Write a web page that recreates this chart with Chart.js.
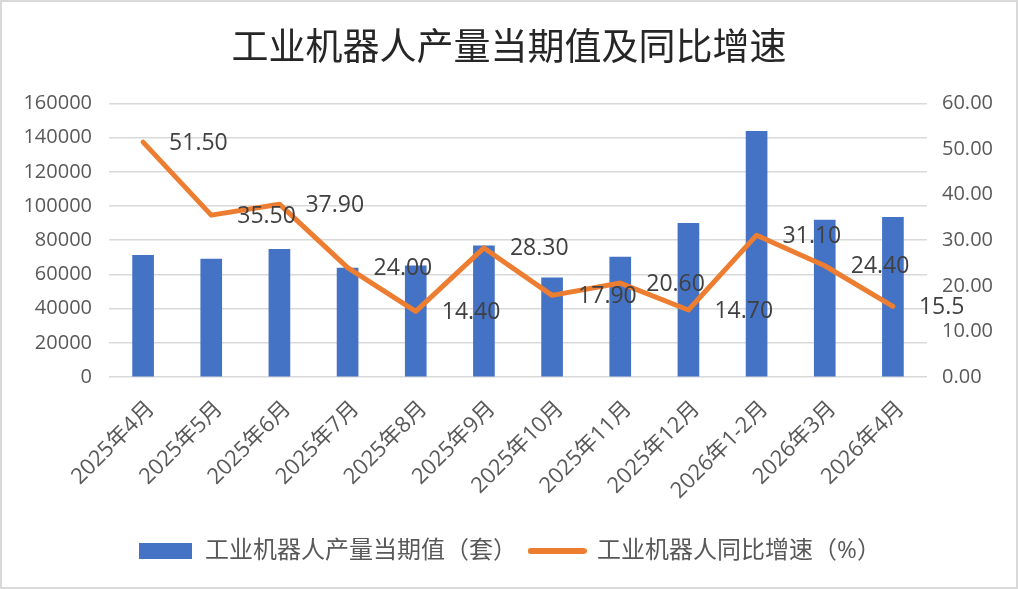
<!DOCTYPE html>
<html>
<head>
<meta charset="utf-8">
<script src="https://cdn.jsdelivr.net/npm/chart.js@4/dist/chart.umd.min.js"></script>
<style>
    html, body { margin: 0; padding: 0; background: #fff; }
    #frame {
        position: absolute; left: 0; top: 0;
        width: 1018px; height: 589px;
        box-sizing: border-box;
        border: 2px solid #d9d9d9;
        background: #fff;
    }
    #robotChart { display: block; }
</style>
</head>
<body>
<div id="frame"><canvas id="robotChart" width="1014" height="585"></canvas></div>
<script>
const months = ['2025年4月', '2025年5月', '2025年6月', '2025年7月', '2025年8月', '2025年9月',
    '2025年10月', '2025年11月', '2025年12月', '2026年1-2月', '2026年3月', '2026年4月'];
const output = [71200, 68900, 74700, 63700, 65000, 76700, 58000, 70200, 89800, 143700, 91700, 93400];
const growth = [51.5, 35.5, 37.9, 24.0, 14.4, 28.3, 17.9, 20.6, 14.7, 31.1, 24.4, 15.5];
const growthText = ['51.50', '35.50', '37.90', '24.00', '14.40', '28.30', '17.90', '20.60', '14.70', '31.10', '24.40', '15.5'];

const FONT = "'Open Sans', 'Noto Sans CJK SC', sans-serif";
const BLUE = '#4472C4';
const ORANGE = '#ED7D31';

// small canvases used as legend symbols: a box for the bars, a thick stroke for the line
function legendSymbol(w, h, color, round) {
    const c = document.createElement('canvas');
    c.width = w;
    c.height = h;
    const g = c.getContext('2d');
    g.fillStyle = color;
    if (round) {
        g.beginPath();
        g.arc(h / 2, h / 2, h / 2, Math.PI / 2, Math.PI * 1.5);
        g.lineTo(w - h / 2, 0);
        g.arc(w - h / 2, h / 2, h / 2, -Math.PI / 2, Math.PI / 2);
        g.closePath();
        g.fill();
    } else {
        g.fillRect(0, 0, w, h);
    }
    return c;
}
const barSymbol = legendSymbol(53, 16, BLUE, false);
const lineSymbol = legendSymbol(59, 6, ORANGE, true);

// labels sit to the right of each point of the line
const pointLabels = {
    id: 'pointLabels',
    afterDatasetsDraw(chart) {
        const ctx = chart.ctx;
        const meta = chart.getDatasetMeta(1);
        ctx.save();
        ctx.font = '23px ' + FONT;
        ctx.fillStyle = '#404040';
        ctx.textAlign = 'left';
        ctx.textBaseline = 'middle';
        meta.data.forEach((pt, i) => {
            ctx.fillText(growthText[i], pt.x + 26, pt.y + 1);
        });
        ctx.restore();
    }
};

new Chart(document.getElementById('robotChart').getContext('2d'), {
    type: 'bar',
    data: {
        labels: months,
        datasets: [{
            type: 'bar',
            label: '工业机器人产量当期值（套）',
            data: output,
            yAxisID: 'yOut',
            backgroundColor: BLUE,
            barThickness: 21,
            order: 2
        }, {
            type: 'line',
            label: '工业机器人同比增速（%）',
            data: growth,
            yAxisID: 'yRate',
            borderColor: ORANGE,
            backgroundColor: ORANGE,
            borderWidth: 5,
            borderCapStyle: 'round',
            borderJoinStyle: 'round',
            pointRadius: 0,
            tension: 0,
            order: 1
        }]
    },
    options: {
        responsive: false,
        animation: false,
        layout: { padding: { left: 0, right: 0, top: 0, bottom: 14 } },
        plugins: {
            title: {
                display: true,
                text: '工业机器人产量当期值及同比增速',
                color: '#262626',
                font: { family: FONT, size: 37, weight: 'normal' },
                padding: { top: 25, bottom: 32 }
            },
            legend: {
                position: 'bottom',
                labels: {
                    color: '#595959',
                    font: { family: FONT, size: 24 },
                    usePointStyle: true,
                    pointStyleWidth: 56,
                    boxHeight: 16,
                    padding: 12,
                    generateLabels(chart) {
                        return chart.data.datasets.map((ds, i) => ({
                            text: ds.label,
                            fillStyle: ds.backgroundColor,
                            strokeStyle: ds.backgroundColor,
                            lineWidth: 0,
                            fontColor: '#595959',
                            datasetIndex: i,
                            hidden: false,
                            pointStyle: ds.type === 'line' ? lineSymbol : barSymbol
                        }));
                    }
                }
            },
            tooltip: { enabled: false }
        },
        scales: {
            x: {
                grid: { display: false, drawTicks: false },
                border: { display: false },
                ticks: {
                    color: '#595959',
                    font: { family: FONT, size: 22 },
                    minRotation: 45,
                    maxRotation: 45,
                    padding: 19,
                    labelOffset: 8
                },
                afterFit(scale) { scale.height = 150; }
            },
            yOut: {
                position: 'left',
                min: 0,
                max: 160000,
                ticks: {
                    stepSize: 20000,
                    color: '#595959',
                    font: { family: FONT, size: 20 },
                    padding: 17,
                    callback: v => String(v)
                },
                grid: { color: '#d9d9d9', lineWidth: 1.5, drawTicks: false },
                border: { display: false },
                afterFit(scale) { scale.width = 107; }
            },
            yRate: {
                position: 'right',
                min: 0,
                max: 60,
                ticks: {
                    stepSize: 10,
                    color: '#595959',
                    font: { family: FONT, size: 20 },
                    padding: 15,
                    callback: v => v.toFixed(2)
                },
                grid: { display: false, drawTicks: false },
                border: { display: false },
                afterFit(scale) { scale.width = 89; }
            }
        }
    },
    plugins: [pointLabels]
});
</script>
</body>
</html>
